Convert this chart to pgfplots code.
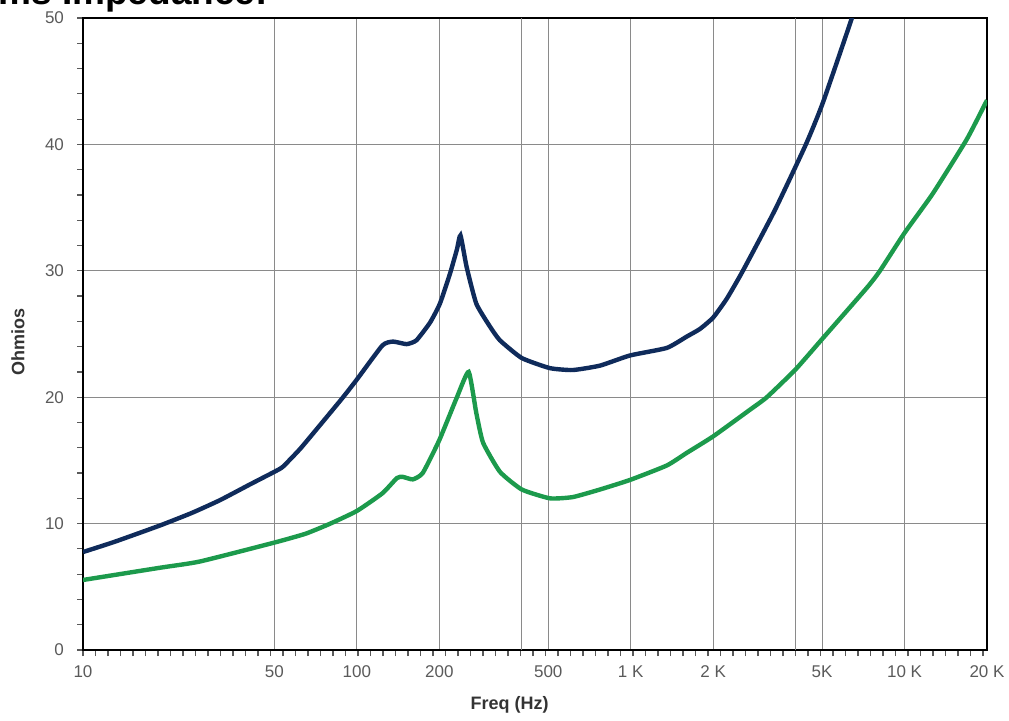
\documentclass[border=0pt]{standalone}
\usepackage{fontspec}
\setmainfont{Liberation Sans}
\usepackage{pgfplots}
\pgfplotsset{compat=1.18}
\definecolor{navyc}{HTML}{0F2B5B}
\definecolor{greenc}{HTML}{1C9A4C}
\definecolor{tickgray}{HTML}{5A5A5A}
\definecolor{gridgray}{HTML}{8A8A8A}
\definecolor{labgray}{HTML}{333333}

\pgfplotstableread{
f z
10 7.75
13 8.55
19.1 9.85
25 10.85
31.6 11.85
40.7 13.1
50 14.1
53.7 14.5
62 15.9
71.5 17.5
88.3 19.9
100 21.4
124 24.1
135.6 24.4
152 24.2
165 24.5
185 25.9
201 27.4
219 29.8
232 31.7
239 32.8
251.7 30.3
273 27.4
306 25.6
333 24.5
400 23.1
507 22.3
615 22.15
773 22.5
993 23.3
1355 23.9
1603 24.8
1790 25.4
2000 26.3
2244 27.8
2568 30.0
3361 34.8
4362 40.0
5031 43.3
6422 50.0
7464 54.5
}\bluedata

\pgfplotstableread{
f z
10 5.54
19 6.5
26.7 7.0
50 8.5
65 9.2
80 10.0
100 11.0
124 12.4
140 13.6
147 13.7
160 13.5
174 14.0
200 16.6
232 20.0
256 22.0
273 18.75
289 16.4
333 14.1
400 12.7
507 12.0
615 12.1
773 12.7
993 13.45
1355 14.6
1603 15.6
2000 16.9
2722 19.0
3141 20.0
4000 22.2
5000 24.6
7280 28.65
8130 30.0
10000 33.0
12670 36.1
16870 40.4
20000 43.5
}\greendata

\begin{document}
\begin{tikzpicture}
\useasboundingbox (0,0) rectangle (504.5pt,360pt);
\clip (0,0) rectangle (504.5pt,360pt);
\node[anchor=base west, inner sep=0, font=\fontsize{18.5}{20}\selectfont\bfseries] at (-1pt,358pt) {ms Impedance:};
% minor tick marks
\begin{axis}[
 at={(41.5pt,35pt)}, anchor=south west,
 scale only axis, width=452pt, height=316pt,
 xmin=1, xmax=4.30103, ymin=0, ymax=50,
 xtick={1,1.04564,...,4.31}, ytick={0,2,...,50},
 xticklabels={}, yticklabels={},
 tick align=outside, major tick length=3pt,
 xtick pos=bottom, ytick pos=left,
 axis line style={draw=none},
 tick style={tickgray, line width=0.6pt},
]
\end{axis}
\begin{axis}[
 at={(41.5pt,35pt)}, anchor=south west,
 scale only axis, width=452pt, height=316pt,
 xmode=log, log basis x=10,
 xmin=10, xmax=20000, ymin=0, ymax=50,
 xtick={10,50,100,200,500,1000,2000,5000,10000,20000},
 xticklabels={10,50,100,200,500,1 K,2 K,5K,10 K,20 K},
 extra x ticks={400,4000}, extra x tick labels={},
 ytick={0,10,20,30,40,50},
 grid=major,
 major grid style={gridgray, line width=0.6pt},
 tick style={draw=none},
 axis line style={black, line width=1.3pt},
 /pgf/number format/assume math mode=true,
 ticklabel style={font=\fontsize{8.5}{10}\selectfont, text=tickgray},
 yticklabel style={xshift=-6pt},
 xticklabel style={yshift=-4.5pt},
 xlabel={Freq (Hz)}, ylabel={Ohmios},
 xlabel style={at={(axis description cs:0.472,0)}, anchor=center, yshift=-27.5pt, font=\fontsize{9}{11}\selectfont\bfseries, text=labgray},
 ylabel style={at={(axis description cs:-0.072,0.487)}, anchor=center, font=\fontsize{9}{11}\selectfont\bfseries, text=labgray},
]
\addplot[navyc, line width=2.2pt, smooth, tension=0.3] table[x=f, y=z] {\bluedata};
\addplot[greenc, line width=2.2pt, smooth, tension=0.3] table[x=f, y=z] {\greendata};
\end{axis}
\end{tikzpicture}
\end{document}
